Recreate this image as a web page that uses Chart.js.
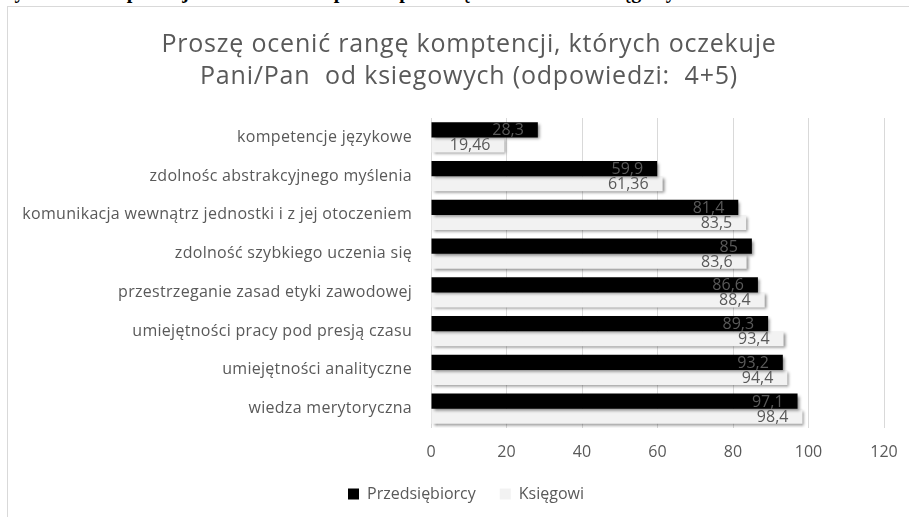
<!DOCTYPE html>
<html lang="pl">
<head>
<meta charset="utf-8">
<script src="https://cdn.jsdelivr.net/npm/chart.js@4.4.1/dist/chart.umd.min.js"></script>
<style>
  html, body { margin: 0; padding: 0; background: #fff; overflow: hidden; }
  #cut { position: absolute; left: 0; top: 0; width: 909px; height: 6px; overflow: hidden; }
  #cut span { position: absolute; left: 0; top: -20px; font: bold 20px "Liberation Serif", serif; color: #000; white-space: nowrap; word-spacing: 14px; }
  #frame { position: absolute; left: 7px; top: 6px; width: 922px; height: 510px; border-left: 1px solid #d9d9d9; border-top: 1px solid #d9d9d9; }
  canvas { display: block; }
</style>
</head>
<body>
<div id="cut"><span>wyniku: kompetencje oczekiwane przez przedsiębiorców od księgowych</span></div>
<div id="frame"><canvas id="chart" width="922" height="510"></canvas></div>
<script>
const categories = [
    'kompetencje językowe',
    'zdolnośc abstrakcyjnego myślenia',
    'komunikacja wewnątrz jednostki i z jej otoczeniem',
    'zdolność szybkiego uczenia się',
    'przestrzeganie zasad etyki zawodowej',
    'umiejętności pracy pod presją czasu',
    'umiejętności analityczne',
    'wiedza merytoryczna'
];
const przedsiebiorcy = [28.3, 59.9, 81.4, 85, 86.6, 89.3, 93.2, 97.1];
const ksiegowi = [19.46, 61.36, 83.5, 83.6, 88.4, 93.4, 94.4, 98.4];
const xTicks = [0, 20, 40, 60, 80, 100, 120];

const fontFamily = '"Open Sans", Lato, sans-serif';
const textGray = '#595959';

// cien pod słupkami jak w Excelu
const barShadow = {
    id: 'barShadow',
    beforeDatasetDraw(chart) {
        const ctx = chart.ctx;
        ctx.save();
        ctx.shadowColor = 'rgba(0,0,0,0.45)';
        ctx.shadowBlur = 3;
        ctx.shadowOffsetX = 2;
        ctx.shadowOffsetY = 2;
    },
    afterDatasetDraw(chart) {
        chart.ctx.restore();
    }
};

const valueLabels = {
    id: 'valueLabels',
    afterDatasetsDraw(chart) {
        const ctx = chart.ctx;
        ctx.save();
        ctx.fillStyle = textGray;
        ctx.font = '16px ' + fontFamily;
        ctx.textAlign = 'right';
        ctx.textBaseline = 'middle';
        chart.data.datasets.forEach((dataset, i) => {
            chart.getDatasetMeta(i).data.forEach((bar, idx) => {
                const txt = String(dataset.data[idx]).replace('.', ',');
                ctx.fillText(txt, bar.x - 14, bar.y + 1);
            });
        });
        ctx.restore();
    }
};

// tytuł i legenda w Excelu są wycentrowane na całej ramce, nie na obszarze bez prawego marginesu
// + rozstrzelony tekst tytułu i etykiet osi
function withSpacing(ctx, fn, sp) {
    return (...args) => {
        ctx.letterSpacing = sp;
        fn(...args);
        ctx.letterSpacing = '0px';
    };
}
const frameFix = {
    id: 'frameFix',
    afterLayout(chart) {
        const tb = chart.titleBlock;
        tb.left += 23;
        tb.right += 23;
        chart.legend.left += 20;
        chart.legend.right += 20;
        if (!tb._wrapped) {
            tb.draw = withSpacing(chart.ctx, tb.draw.bind(tb), '0.8px');
            tb._wrapped = true;
        }
        const y = chart.scales.y;
        if (!y._wrapped) {
            y.drawLabels = withSpacing(chart.ctx, y.drawLabels.bind(y), '0.3px');
            y._wrapped = true;
        }
    }
};

new Chart(document.getElementById('chart'), {
    type: 'bar',
    data: {
        labels: categories,
        datasets: [
            {
                label: 'Przedsiębiorcy',
                data: przedsiebiorcy,
                backgroundColor: '#000000',
                borderWidth: 0,
                categoryPercentage: 0.78,
                barPercentage: 1
            },
            {
                label: 'Księgowi',
                data: ksiegowi,
                backgroundColor: '#f2f2f2',
                borderWidth: 0,
                categoryPercentage: 0.78,
                barPercentage: 1
            }
        ]
    },
    options: {
        indexAxis: 'y',
        responsive: false,
        animation: false,
        layout: { padding: { left: 0, right: 46, top: 0, bottom: 5 } },
        scales: {
            x: {
                min: 0,
                max: 120,
                afterBuildTicks: (axis) => { axis.ticks = xTicks.map(v => ({ value: v })); },
                afterFit: (axis) => { axis.height = 34; },
                grid: { color: '#d9d9d9', drawTicks: false },
                border: { display: false },
                ticks: { color: textGray, font: { family: fontFamily, size: 16 }, padding: 15 }
            },
            y: {
                grid: { display: false },
                border: { display: false },
                ticks: { color: textGray, font: { family: fontFamily, size: 16 }, padding: 11, autoSkip: false },
                afterFit: (axis) => { axis.width = 423; }
            }
        },
        plugins: {
            title: {
                display: true,
                text: ['Proszę ocenić rangę komptencji, których oczekuje', 'Pani/Pan  od ksiegowych (odpowiedzi:  4+5)'],
                color: textGray,
                font: { family: fontFamily, size: 25, weight: 'normal', lineHeight: '32px' },
                padding: { top: 22, bottom: 25 }
            },
            legend: {
                position: 'bottom',
                labels: {
                    color: textGray,
                    font: { family: fontFamily, size: 16 },
                    boxWidth: 11,
                    boxHeight: 11,
                    padding: 24
                }
            },
            tooltip: { enabled: false }
        }
    },
    plugins: [barShadow, valueLabels, frameFix]
});
</script>
</body>
</html>
